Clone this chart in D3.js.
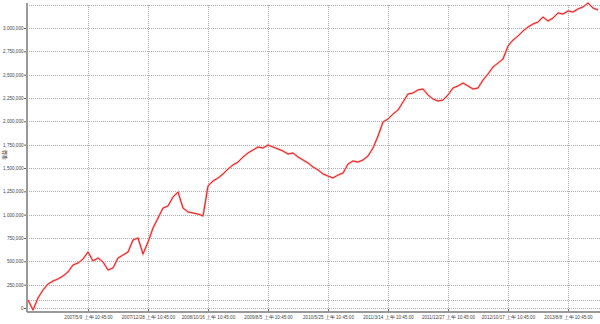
<!DOCTYPE html>
<html>
<head>
<meta charset="utf-8">
<script src="https://cdn.jsdelivr.net/npm/d3@7/dist/d3.min.js"></script>
<style>
  body { margin: 0; background: #fff; }
  svg { display: block; }
  .tick text { font-family: "Liberation Sans", "DejaVu Sans", sans-serif; font-size: 4.6px; fill: #444; }
</style>
</head>
<body>
<script>
// equity curve, one sample every 10 bars (values in thousands)
const sampleStep = 10;
const equity = [
  86, -21, 107, 193, 257, 289, 311, 343, 386, 461,
  482, 525, 600, 504, 536, 493, 407, 429, 536, 568,
  600, 729, 750, 579, 707, 857, 964, 1071, 1093, 1189,
  1243, 1071, 1029, 1018, 1007, 986, 1307, 1361, 1393, 1436,
  1489, 1532, 1564, 1618, 1661, 1693, 1725, 1714, 1746, 1725,
  1704, 1682, 1650, 1661, 1618, 1586, 1554, 1511, 1479, 1436,
  1414, 1393, 1425, 1446, 1543, 1575, 1564, 1586, 1629, 1714,
  1843, 1993, 2025, 2079, 2121, 2207, 2293, 2304, 2336, 2346,
  2282, 2239, 2218, 2229, 2282, 2357, 2379, 2411, 2379, 2346,
  2357, 2443, 2507, 2582, 2625, 2668, 2807, 2871, 2914, 2968,
  3011, 3043, 3064, 3118, 3075, 3107, 3161, 3150, 3182, 3171,
  3204, 3225, 3268, 3214, 3193
];

const xTickBars = [120, 240, 360, 480, 600, 720, 840, 960, 1080];
const xTickLabels = [
  "2007/5/9 上午 10:45:00", "2007/12/28 上午 10:45:00", "2008/10/16 上午 10:45:00",
  "2009/8/5 上午 10:45:00", "2010/5/25 上午 10:45:00", "2011/3/14 上午 10:45:00",
  "2011/12/27 上午 10:45:00", "2012/10/17 上午 10:45:00", "2013/8/8 上午 10:45:00"
];
const yTicks = [0, 250000, 500000, 750000, 1000000, 1250000, 1500000, 1750000,
  2000000, 2250000, 2500000, 2750000, 3000000];
const yTitle = "權益";

const W = 600, H = 324;
const m = { left: 27, right: 2, top: 5, bottom: 12 };

const svg = d3.select("body").append("svg")
  .attr("width", W).attr("height", H);

const x = d3.scaleLinear()
  .domain([0, (equity.length - 1) * sampleStep])
  .range([m.left + 1, W - m.right]);

const y = d3.scaleLinear()
  .domain([0, 3000000])
  .range([308, 28]);

const plotBottom = H - m.bottom;

// grid
svg.append("g")
  .selectAll("line")
  .data(yTicks)
  .join("line")
  .attr("x1", m.left).attr("x2", W)
  .attr("y1", d => Math.round(y(d)) + 0.5).attr("y2", d => Math.round(y(d)) + 0.5)
  .attr("stroke", "#aaa").attr("stroke-dasharray", "1,1");

svg.append("line")
  .attr("x1", m.left).attr("x2", W)
  .attr("y1", m.top + 0.5).attr("y2", m.top + 0.5)
  .attr("stroke", "#aaa").attr("stroke-dasharray", "1,1");
svg.append("line")
  .attr("x1", m.left).attr("x2", W)
  .attr("y1", plotBottom - 11.5).attr("y2", plotBottom - 11.5)
  .attr("stroke", "#aaa").attr("stroke-dasharray", "1,1");

svg.append("g")
  .selectAll("line")
  .data(xTickBars)
  .join("line")
  .attr("x1", d => Math.round(x(d)) + 0.5).attr("x2", d => Math.round(x(d)) + 0.5)
  .attr("y1", m.top).attr("y2", plotBottom)
  .attr("stroke", "#aaa").attr("stroke-dasharray", "1,1");

// series
const pts = equity.map((v, i) => [x(i * sampleStep), y(v * 1000)]);
const line = d3.line();
svg.append("path")
  .attr("d", line(pts))
  .attr("fill", "none")
  .attr("stroke", "#f8b0b0")
  .attr("stroke-width", 2.2);
svg.append("path")
  .attr("d", line(pts))
  .attr("fill", "none")
  .attr("stroke", "#e01010")
  .attr("stroke-width", 0.9);

// axes
const yAxis = d3.axisLeft(y)
  .tickValues(yTicks)
  .tickSize(3)
  .tickFormat(d3.format(",.0f"));
const gy = svg.append("g")
  .attr("transform", `translate(${m.left},0)`)
  .call(yAxis);
gy.select(".domain").remove();
gy.selectAll(".tick line").attr("stroke", "#666");
gy.selectAll(".tick text").attr("x", -3.5);
svg.append("line")
  .attr("x1", m.left).attr("x2", m.left)
  .attr("y1", m.top - 2).attr("y2", plotBottom)
  .attr("stroke", "#999").attr("stroke-width", 2);

const xAxis = d3.axisBottom(x)
  .tickValues(xTickBars)
  .tickSize(3)
  .tickFormat((d, i) => xTickLabels[i]);
const gx = svg.append("g")
  .attr("transform", `translate(0,${plotBottom})`)
  .call(xAxis);
gx.select(".domain").remove();
gx.selectAll(".tick line").attr("stroke", "#666").attr("y1", -3).attr("y2", 0);
gx.selectAll(".tick text").attr("y", 6).attr("dy", "0.3em");
svg.append("line")
  .attr("x1", m.left).attr("x2", W)
  .attr("y1", plotBottom).attr("y2", plotBottom)
  .attr("stroke", "#999").attr("stroke-width", 2);

svg.append("text")
  .attr("transform", `translate(6,155) rotate(-90)`)
  .attr("text-anchor", "middle")
  .attr("font-family", "Noto Sans CJK TC")
  .attr("font-size", 5)
  .attr("fill", "#444")
  .text(yTitle);
</script>
</body>
</html>
